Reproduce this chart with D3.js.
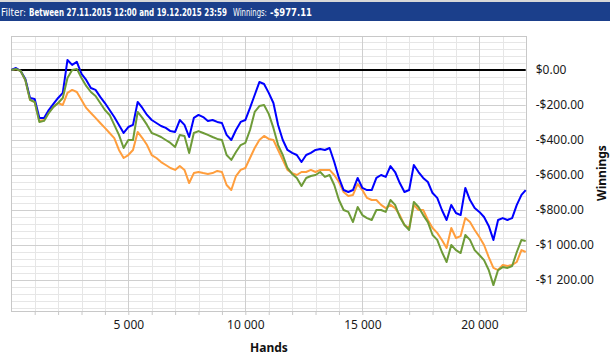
<!DOCTYPE html>
<html><head><meta charset="utf-8">
<script src="https://cdn.jsdelivr.net/npm/d3@7"></script>
<style>body{margin:0;background:#fff;overflow:hidden} svg{display:block}</style>
</head><body>
<svg id="chart" width="610" height="358"></svg>
<script>
const hands = [0,200,400,600,800,1000,1200,1400,1600,1800,2000,2200,2400,2600,2800,3000,3200,3400,3600,3800,4000,4200,4400,4600,4800,5000,5200,5400,5600,5800,6000,6200,6400,6600,6800,7000,7200,7400,7600,7800,8000,8200,8400,8600,8800,9000,9200,9400,9600,9800,10000,10200,10400,10600,10800,11000,11200,11400,11600,11800,12000,12200,12400,12600,12800,13000,13200,13400,13600,13800,14000,14200,14400,14600,14800,15000,15200,15400,15600,15800,16000,16200,16400,16600,16800,17000,17200,17400,17600,17800,18000,18200,18400,18600,18800,19000,19200,19400,19600,19800,20000,20200,20400,20600,20800,21000,21200,21400,21600,21800,21980];

const blueSeries = [0,11,-6,-51,-160,-166,-274,-274,-229,-194,-160,-131,57,29,46,-23,-57,-103,-114,-154,-189,-229,-269,-314,-360,-326,-314,-183,-217,-257,-286,-303,-320,-331,-349,-354,-286,-314,-383,-274,-257,-269,-291,-286,-297,-303,-371,-400,-343,-297,-286,-217,-143,-69,-80,-131,-189,-314,-400,-457,-474,-486,-526,-486,-474,-457,-451,-457,-446,-526,-617,-686,-697,-686,-617,-674,-686,-686,-617,-600,-611,-549,-583,-646,-697,-686,-543,-583,-617,-640,-703,-731,-800,-857,-771,-817,-829,-674,-743,-789,-811,-840,-891,-971,-857,-846,-857,-846,-771,-714,-686];

const greenSeries = [0,6,-6,-57,-171,-183,-297,-291,-246,-211,-189,-160,-46,0,6,-46,-91,-126,-149,-189,-229,-257,-314,-371,-446,-400,-400,-240,-274,-314,-360,-371,-383,-400,-417,-440,-371,-377,-474,-360,-349,-360,-371,-383,-394,-400,-486,-514,-469,-429,-417,-343,-240,-206,-200,-251,-331,-429,-486,-560,-594,-617,-663,-617,-606,-600,-583,-611,-600,-657,-743,-800,-811,-869,-783,-829,-846,-857,-800,-800,-811,-743,-771,-840,-886,-914,-754,-783,-829,-869,-943,-971,-1040,-1097,-1000,-1029,-1046,-943,-971,-1029,-1057,-1086,-1143,-1229,-1143,-1126,-1131,-1120,-1040,-971,-977];

const orangeSeries = [0,6,-6,-57,-171,-183,-291,-286,-240,-211,-189,-200,-131,-114,-126,-171,-217,-246,-274,-303,-331,-360,-389,-457,-503,-486,-457,-354,-389,-429,-486,-503,-526,-543,-560,-571,-549,-571,-646,-589,-583,-589,-594,-589,-577,-583,-657,-686,-606,-571,-560,-503,-446,-400,-377,-394,-400,-457,-514,-571,-589,-600,-583,-583,-571,-583,-571,-571,-571,-600,-640,-697,-720,-714,-651,-686,-731,-743,-743,-771,-789,-771,-789,-829,-886,-903,-771,-800,-800,-857,-903,-931,-971,-1017,-903,-960,-949,-846,-869,-914,-954,-1000,-1069,-1131,-1143,-1114,-1120,-1114,-1097,-1029,-1040];

const xTickValues = [5000,10000,15000,20000];
const yTickValues = [0,-200,-400,-600,-800,-1000,-1200];
const headerFilter = "Filter:";
const headerRange = "Between 27.11.2015 12:00 and 19.12.2015 23:59";
const headerWinLabel = "Winnings:";
const headerWinValue = "-$977.11";
const xAxisTitle = "Hands";
const yAxisTitle = "Winnings";

const svg = d3.select("#chart");
const L = 11.3, R = 525.7, T = 36, B = 311;
const x = d3.scaleLinear().domain([0, 21980]).range([L, R]);
const y = d3.scaleLinear().domain([-1377, 194]).range([B, T]);

// header
svg.append("rect").attr("x",0).attr("y",0).attr("width",610).attr("height",2).attr("fill","#d8d8d8");
svg.append("rect").attr("x",0).attr("y",2).attr("width",610).attr("height",19).attr("fill","#1b3f8b");
const hf = "Tahoma, 'DejaVu Sans', sans-serif";
function htxt(t, x0, w, bold){
  const el = svg.append("text").attr("x",0).attr("y",0).text(t)
    .attr("font-family",hf).attr("font-size",10.5).attr("fill","#fff")
    .attr("font-weight",bold?"bold":"normal");
  const len = el.node().getComputedTextLength();
  el.attr("transform",`translate(${x0},15.5) scale(${w/len},1)`);
}
htxt(headerFilter, 1, 25, false);
htxt(headerRange, 29, 198, true);
htxt(headerWinLabel, 233, 34, false);
htxt(headerWinValue, 270, 42, true);

// grid
const g = svg.append("g");
const minorY = d3.range(-1360, 194, 40);
const minorX = d3.range(1000, 21980, 1000);
g.selectAll(".my").data(minorY.filter(v => v % 200 !== 0)).join("line")
  .attr("x1",L).attr("x2",R).attr("y1",d=>Math.round(y(d))+0.5).attr("y2",d=>Math.round(y(d))+0.5)
  .attr("stroke","#e6e6e6").attr("stroke-width",1);
g.selectAll(".mx").data(minorX.filter(v => v % 5000 !== 0)).join("line")
  .attr("y1",T).attr("y2",B).attr("x1",d=>Math.round(x(d))+0.5).attr("x2",d=>Math.round(x(d))+0.5)
  .attr("stroke","#e6e6e6").attr("stroke-width",1);
g.selectAll(".My").data(d3.range(-1200, 194, 200)).join("line")
  .attr("x1",L).attr("x2",R).attr("y1",d=>Math.round(y(d))+0.5).attr("y2",d=>Math.round(y(d))+0.5)
  .attr("stroke","#cfcfcf").attr("stroke-width",1);
g.selectAll(".Mx").data(xTickValues).join("line")
  .attr("y1",T).attr("y2",B).attr("x1",d=>Math.round(x(d))+0.5).attr("x2",d=>Math.round(x(d))+0.5)
  .attr("stroke","#cfcfcf").attr("stroke-width",1);
// border
svg.append("rect").attr("x",Math.round(L)+0.5).attr("y",T+0.5).attr("width",Math.round(R)-Math.round(L)).attr("height",B-T)
  .attr("fill","none").attr("stroke","#c8c8c8");

// x axis ticks
const xAxis = d3.axisBottom(x).tickValues(minorX).tickSize(4).tickFormat(d => xTickValues.includes(d) ? d3.format(",")(d).replace(/,/g," ") : "");
const xa = svg.append("g").attr("transform",`translate(0,${B})`).call(xAxis);
xa.select(".domain").remove();
xa.selectAll(".tick line").attr("stroke","#c8c8c8");
xa.selectAll(".tick text").attr("font-family","'Segoe UI','Noto Sans',sans-serif").attr("font-size",12).attr("fill","#1a1a1a").attr("dy","0.9em");

// y axis labels
const fmtY = v => (v < 0 ? "-" : "") + "$" + d3.format(",.2f")(Math.abs(v)).replace(/,/g," ");
const yAxis = d3.axisRight(y).tickValues(yTickValues).tickSize(0).tickPadding(10).tickFormat(fmtY);
const ya = svg.append("g").attr("transform",`translate(${R},0)`).call(yAxis);
ya.select(".domain").remove();
ya.selectAll(".tick text").attr("font-family","'Segoe UI','Noto Sans',sans-serif").attr("font-size",12).attr("fill","#1a1a1a");

// titles
svg.append("text").attr("x",269).attr("y",352).attr("text-anchor","middle").text(xAxisTitle)
  .attr("font-family","'Segoe UI','Noto Sans',sans-serif").attr("font-size",12).attr("font-weight","bold").attr("fill","#111");
svg.append("text").attr("transform","translate(605.5,173) rotate(-90)").attr("text-anchor","middle").text(yAxisTitle)
  .attr("font-family","'Segoe UI','Noto Sans',sans-serif").attr("font-size",12).attr("font-weight","bold").attr("fill","#111");

// zero line
svg.append("line").attr("x1",L).attr("x2",R).attr("y1",y(0)).attr("y2",y(0)).attr("stroke","#000").attr("stroke-width",2);

// series
const line = d3.line().x((d,i)=>x(hands[i])).y(d=>y(d));
const series = [[orangeSeries,"#ff9e3d"],[blueSeries,"#0000ff"],[greenSeries,"#6e9b38"]];
series.forEach(([data,color]) => {
  svg.append("path").datum(data).attr("d",line).attr("fill","none").attr("stroke",color)
    .attr("stroke-width",2).attr("stroke-linejoin","round");
});
</script>
</body></html>
